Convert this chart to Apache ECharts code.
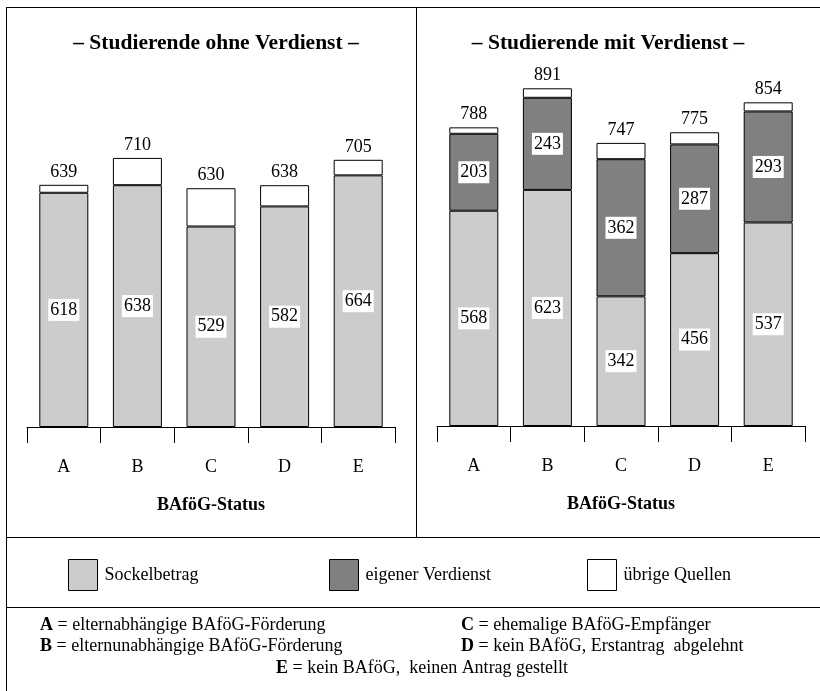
<!DOCTYPE html>
<html>
<head>
<meta charset="utf-8">
<script src="https://cdn.jsdelivr.net/npm/echarts@6/dist/echarts.min.js"></script>
<style>html,body{margin:0;padding:0;background:#fff}#c{width:820px;height:691px}</style>
</head>
<body>
<div id="c"></div>
<script>
var categories = ['A', 'B', 'C', 'D', 'E'];
// Studierende ohne Verdienst
var leftSockel = [618, 638, 529, 582, 664];
var leftUebrige = [21, 72, 101, 56, 41];
var leftTotals = [639, 710, 630, 638, 705];
// Studierende mit Verdienst
var rightSockel = [568, 623, 342, 456, 537];
var rightVerdienst = [203, 243, 362, 287, 293];
var rightUebrige = [17, 25, 43, 32, 24];
var rightTotals = [788, 891, 747, 775, 854];

var titles = ['\u2013 Studierende ohne Verdienst \u2013', '\u2013 Studierende mit Verdienst \u2013'];
var axisName = 'BAf\u00f6G-Status';
var seriesNames = ['Sockelbetrag', 'eigener Verdienst', '\u00fcbrige Quellen'];
var defs = [
  '{b|A} = elternabh\u00e4ngige BAf\u00f6G-F\u00f6rderung',
  '{b|B} = elternunabh\u00e4ngige BAf\u00f6G-F\u00f6rderung',
  '{b|C} = ehemalige BAf\u00f6G-Empf\u00e4nger',
  '{b|D} = kein BAf\u00f6G, Erstantrag  abgelehnt',
  '{b|E} = kein BAf\u00f6G,  keinen Antrag gestellt'
];

var FONT = '"Liberation Serif", "Times New Roman", serif';
var colSockel = '#cccccc', colVerd = '#808080', colUeb = '#ffffff';

function xAx(gi) {
  return {
    type: 'category', gridIndex: gi, data: categories, boundaryGap: true,
    axisLine: {show: true, lineStyle: {color: '#000', width: 1}},
    axisTick: {show: true, length: 16, lineStyle: {color: '#000', width: 1}, alignWithLabel: false},
    axisLabel: {margin: 31, color: '#000', fontFamily: FONT, fontSize: 18},
    name: axisName, nameLocation: 'middle', nameGap: 69,
    nameTextStyle: {color: '#000', fontFamily: FONT, fontSize: 18, fontWeight: 'bold'}
  };
}
function yAx(gi) {
  return {type: 'value', gridIndex: gi, min: 0, max: 1000, show: false, splitLine: {show: false}};
}
var insideLabel = {
  show: true, position: 'inside', color: '#000', fontFamily: FONT, fontSize: 18,
  backgroundColor: '#fff', padding: [3, 2, 1, 2]
};
function totalLabel(totals) {
  return {
    show: true, position: 'top', distance: 4, color: '#000', fontFamily: FONT, fontSize: 18,
    formatter: function (p) { return totals[p.dataIndex]; }
  };
}
function bar(name, gi, stack, data, color, label) {
  return {
    name: name, type: 'bar', xAxisIndex: gi, yAxisIndex: gi, stack: stack, data: data,
    barWidth: 49, itemStyle: {color: color, borderColor: '#000', borderWidth: 1},
    label: label, silent: true, animation: false
  };
}
function legend(name, left) {
  return {
    data: [{name: name, icon: 'rect'}], left: left, top: 554, selectedMode: false,
    itemWidth: 29, itemHeight: 31, icon: 'rect',
    itemStyle: {borderColor: '#000', borderWidth: 1},
    textStyle: {color: '#000', fontFamily: FONT, fontSize: 18, padding: [0, 0, 3, 2]}
  };
}
function line(x1, y1, x2, y2) {
  return {type: 'line', shape: {x1: x1, y1: y1, x2: x2, y2: y2}, style: {stroke: '#000', lineWidth: 1}, silent: true};
}
function txt(x, y, text, align, bold, size) {
  return {
    type: 'text', x: x, y: y, silent: true,
    style: {
      text: text, fill: '#000', font: (bold ? 'bold ' : '') + size + 'px ' + FONT,
      textAlign: align, textVerticalAlign: 'middle',
      rich: {b: {fontWeight: 'bold', fontFamily: FONT, fontSize: size, fill: '#000'}}
    }
  };
}

var chart = echarts.init(document.getElementById('c'), null, {renderer: 'canvas'});
chart.setOption({
  animation: false,
  backgroundColor: '#fff',
  grid: [
    {left: 27, width: 368, top: 48, height: 379},
    {left: 437, width: 368, top: 47, height: 379}
  ],
  xAxis: [xAx(0), xAx(1)],
  yAxis: [yAx(0), yAx(1)],
  legend: [legend(seriesNames[0], 63), legend(seriesNames[1], 324), legend(seriesNames[2], 582)],
  series: [
    bar(seriesNames[0], 0, 'L', leftSockel, colSockel, insideLabel),
    bar(seriesNames[2], 0, 'L', leftUebrige, colUeb, totalLabel(leftTotals)),
    bar(seriesNames[0], 1, 'R', rightSockel, colSockel, insideLabel),
    bar(seriesNames[1], 1, 'R', rightVerdienst, colVerd, insideLabel),
    bar(seriesNames[2], 1, 'R', rightUebrige, colUeb, totalLabel(rightTotals))
  ],
  graphic: [
    line(6, 7.5, 820, 7.5),
    line(6.5, 7, 6.5, 691),
    line(416.5, 7, 416.5, 537),
    line(6, 537.5, 820, 537.5),
    line(6, 607.5, 820, 607.5),
    txt(216, 43, titles[0], 'center', true, 21.5),
    txt(608, 43, titles[1], 'center', true, 21.5),
    txt(40, 625, defs[0], 'left', false, 18),
    txt(40, 646, defs[1], 'left', false, 18),
    txt(461, 625, defs[2], 'left', false, 18),
    txt(461, 646, defs[3], 'left', false, 18),
    txt(276, 668, defs[4], 'left', false, 18)
  ]
});
</script>
</body>
</html>
